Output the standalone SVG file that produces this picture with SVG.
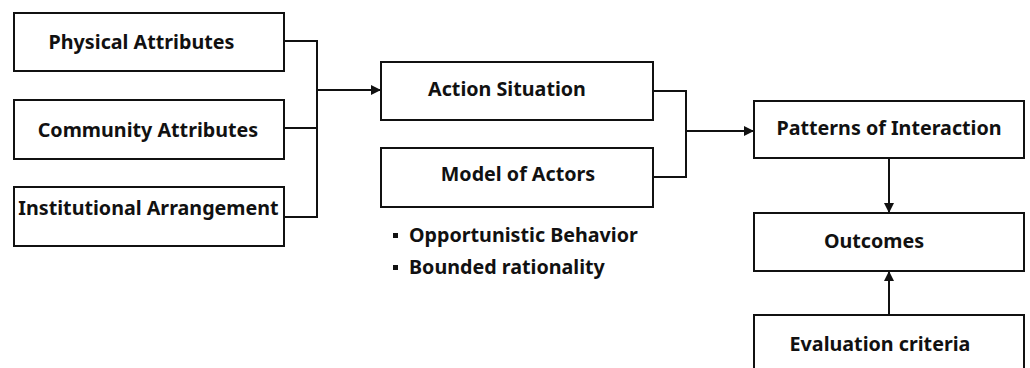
<svg xmlns="http://www.w3.org/2000/svg" width="1030" height="368" viewBox="0 0 1030 368">
<style>
.box{fill:#fff;stroke:#111;stroke-width:2}
.t{font-family:"Noto Sans","Liberation Sans",sans-serif;font-weight:bold;font-size:19.7px;fill:#111}
.c{fill:none;stroke:#111;stroke-width:2}
</style>
<defs>
<marker id="ah" viewBox="0 0 10 10" refX="10" refY="5" markerWidth="5" markerHeight="5" orient="auto" markerUnits="strokeWidth">
<path d="M0,0 L10,5 L0,10 z" fill="#111"/>
</marker>
</defs>
<rect width="1030" height="368" fill="#fff"/>
<g id="physical"><rect class="box" x="14" y="13" width="270" height="58"/><text class="t" x="141.5" y="49" text-anchor="middle">Physical Attributes</text></g>
<g id="community"><rect class="box" x="14" y="100" width="270" height="59"/><text class="t" x="148" y="137" text-anchor="middle">Community Attributes</text></g>
<g id="institutional"><rect class="box" x="14" y="187" width="270" height="59"/><text class="t" x="148.5" y="215" text-anchor="middle">Institutional Arrangement</text></g>
<g id="action"><rect class="box" x="381" y="62" width="272" height="58"/><text class="t" x="507" y="96" text-anchor="middle">Action Situation</text></g>
<g id="model"><rect class="box" x="381" y="148" width="272" height="59"/><text class="t" x="518" y="181" text-anchor="middle">Model of Actors</text></g>
<g id="bullets">
<rect x="393" y="233" width="5" height="5" fill="#111"/>
<text class="t" x="409" y="242">Opportunistic Behavior</text>
<rect x="393" y="265" width="5" height="5" fill="#111"/>
<text class="t" x="409" y="274">Bounded rationality</text>
</g>
<g id="patterns"><rect class="box" x="754" y="101" width="270" height="57"/><text class="t" x="889" y="135" text-anchor="middle">Patterns of Interaction</text></g>
<g id="outcomes"><rect class="box" x="754" y="213" width="270" height="58"/><text class="t" x="874" y="248" text-anchor="middle">Outcomes</text></g>
<g id="evaluation"><rect class="box" x="754" y="315" width="270" height="70"/><text class="t" x="880" y="351" text-anchor="middle">Evaluation criteria</text></g>
<g id="connectors">
<path class="c" d="M284,41 H317 V217 H284 M284,128 H317"/>
<path class="c" d="M316,90 H381" marker-end="url(#ah)"/>
<path class="c" d="M653,91 H686 V177 H653"/>
<path class="c" d="M686,131 H754" marker-end="url(#ah)"/>
<path class="c" d="M889,158 V213" marker-end="url(#ah)"/>
<path class="c" d="M889,315 V271" marker-end="url(#ah)"/>
</g>
</svg>
